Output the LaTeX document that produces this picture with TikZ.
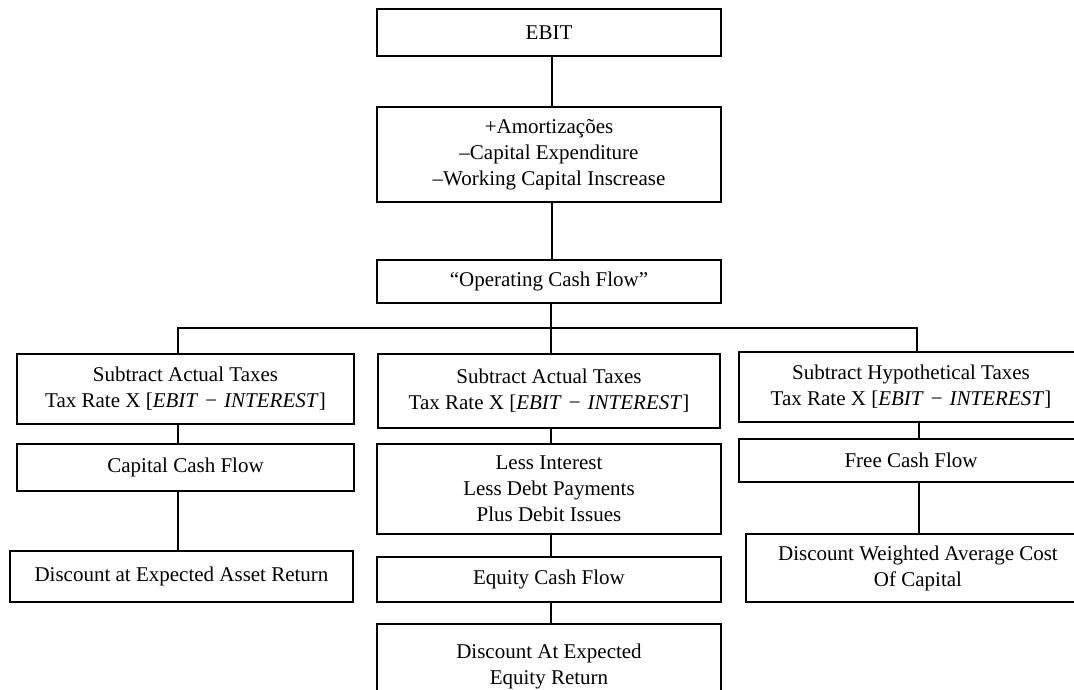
\documentclass[tikz,border=0pt]{standalone}
\usepackage{fontspec}
\setmainfont{Liberation Serif}
\newcommand{\ebitint}{[\textit{EBIT}\,\,−\,\,\textit{INTEREST}]}
\begin{document}
\begin{tikzpicture}[x=1pt,y=-1pt,
  box/.style={draw, line width=1.3pt, inner sep=0pt, align=center,
    font=\fontsize{21}{26}\selectfont},
  conn/.style={line width=1.2pt}]
\useasboundingbox (0,0) rectangle (1074,689);
\clip (0,0) rectangle (1074,689);
% top column
\node[box, minimum width=344pt, minimum height=47pt] (ebit) at (549,32.5) {EBIT};
\node[box, minimum width=344pt, minimum height=95pt] (adj) at (549,154.5) {+Amortizações\\–Capital Expenditure\\–Working Capital Inscrease};
\node[box, minimum width=344pt, minimum height=43pt] (ocf) at (549,281.5) {“Operating Cash Flow”};
% left column
\node[box, minimum width=337pt, minimum height=70pt] (ltax) at (185.5,389) {Subtract Actual Taxes\\Tax Rate X \ebitint};
\node[box, minimum width=337pt, minimum height=47pt] (ccf) at (185.5,467.5) {Capital Cash Flow};
\node[box, minimum width=343pt, minimum height=51pt] (dar) at (181.5,576.5) {Discount at Expected Asset Return};
% middle column
\node[box, minimum width=342pt, minimum height=74pt] (mtax) at (549,391) {Subtract Actual Taxes\\Tax Rate X \ebitint};
\node[box, minimum width=344pt, minimum height=90pt] (less) at (549,489) {Less Interest\\Less Debt Payments\\Plus Debit Issues};
\node[box, minimum width=344pt, minimum height=45pt] (ecf) at (549,579.5) {Equity Cash Flow};
\node[box, minimum width=344pt, minimum height=84pt] (der) at (549,666) {Discount At Expected\\Equity Return};
% right column
\node[box, minimum width=344pt, minimum height=70pt] (rtax) at (911,387) {Subtract Hypothetical Taxes\\Tax Rate X \ebitint};
\node[box, minimum width=344pt, minimum height=43pt] (fcf) at (911,460.5) {Free Cash Flow};
\node[box, minimum width=344pt, minimum height=68pt] (dwacc) at (918,568) {Discount Weighted Average Cost\\Of Capital};
% bus coordinates
\coordinate (bm) at (551,328);
\coordinate (bl) at (178,328);
\coordinate (br) at (917,328);
\coordinate (cm) at (552,0);
% connectors
\draw[conn] (ebit.south -| cm) -- (adj.north -| cm);
\draw[conn] (adj.south -| cm) -- (ocf.north -| cm);
\draw[conn] (ocf.south -| bm) -- (mtax.north -| bm);
\draw[conn] (bl |- ltax.north) -- (bl) -- (br) -- (br |- rtax.north);
\draw[conn] (ltax.south -| bl) -- (ccf.north -| bl);
\draw[conn] (ccf.south -| bl) -- (dar.north -| bl);
\draw[conn] (mtax.south -| bm) -- (less.north -| bm);
\draw[conn] (less.south -| bm) -- (ecf.north -| bm);
\draw[conn] (ecf.south -| bm) -- (der.north -| bm);
\coordinate (rc) at (919,0);
\draw[conn] (rtax.south -| rc) -- (fcf.north -| rc);
\draw[conn] (fcf.south -| rc) -- (dwacc.north -| rc);
\end{tikzpicture}
\end{document}
